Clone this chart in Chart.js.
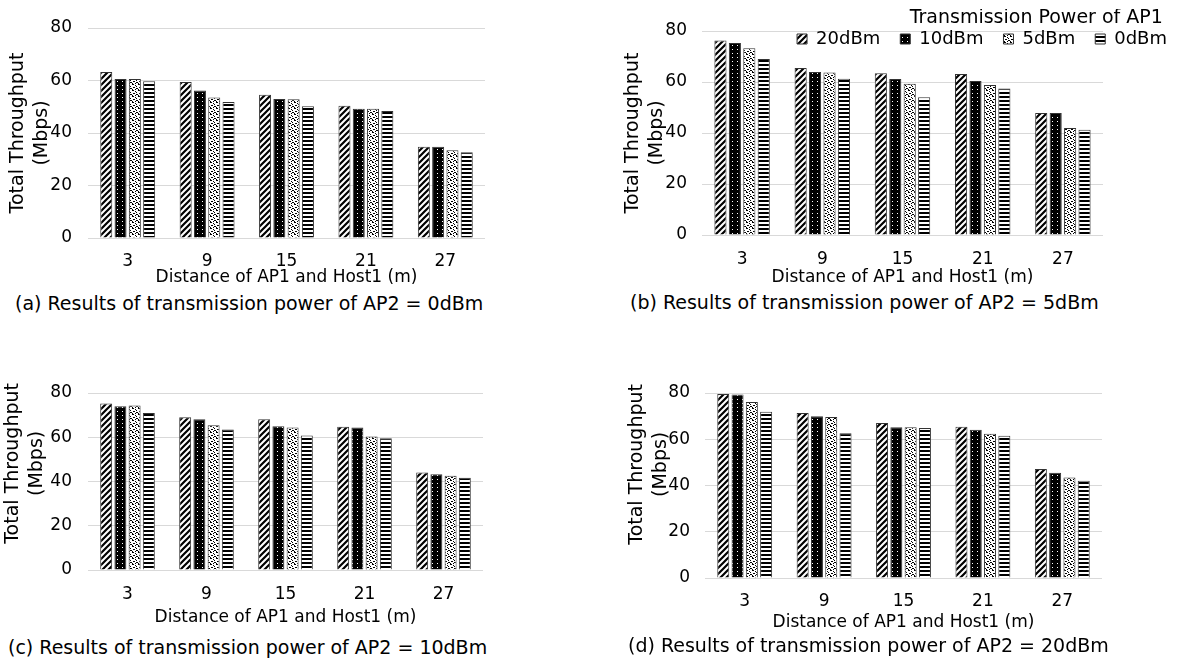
<!DOCTYPE html>
<html>
<head>
<meta charset="utf-8">
<script src="https://cdn.jsdelivr.net/npm/chart.js@4.4.0/dist/chart.umd.min.js"></script>
<style>
  body { margin: 0; background: #fff; width: 1182px; height: 660px; position: relative; overflow: hidden; font-family: 'DejaVu Sans', sans-serif; }
  .panel { position: absolute; }
  .cap { position: absolute; font-size: 19px; line-height: 22px; white-space: nowrap; color: #000; }
</style>
</head>
<body>
<div class="panel" style="left:0;top:0"><canvas id="chartA"></canvas></div>
<div class="panel" style="left:590px;top:0"><canvas id="chartB"></canvas></div>
<div class="panel" style="left:0;top:330px"><canvas id="chartC"></canvas></div>
<div class="panel" style="left:590px;top:330px"><canvas id="chartD"></canvas></div>

<div class="cap" style="left:15px;top:292px">(a) Results of transmission power of AP2 = 0dBm</div>
<div class="cap" style="left:630px;top:291px">(b) Results of transmission power of AP2 = 5dBm</div>
<div class="cap" style="left:8px;top:636px">(c) Results of transmission power of AP2 = 10dBm</div>
<div class="cap" style="left:628px;top:634px">(d) Results of transmission power of AP2 = 20dBm</div>

<script>
// distances on the x axis, and the AP1 powers of the four series
const distances = ['3', '9', '15', '21', '27'];
const ap1Powers = ['20dBm', '10dBm', '5dBm', '0dBm'];
const yTicks = [0, 20, 40, 60, 80];

// one row per AP1 power (20, 10, 5, 0 dBm), one column per distance
const ap2At0dBm = [
  [63.2, 59.4, 54.6, 50.4, 34.8],
  [60.6, 56.2, 53.0, 49.2, 34.8],
  [60.6, 53.5, 52.9, 49.2, 33.4],
  [59.7, 51.8, 50.2, 48.4, 32.7]
];
const ap2At5dBm = [
  [76.3, 65.5, 63.4, 63.1, 47.8],
  [75.3, 63.9, 61.2, 60.4, 47.8],
  [73.2, 63.7, 59.3, 58.8, 42.0],
  [69.0, 61.3, 54.0, 57.5, 41.3]
];
const ap2At10dBm = [
  [75.3, 69.0, 68.1, 64.8, 44.1],
  [74.0, 68.1, 65.0, 64.4, 43.3],
  [74.3, 65.4, 64.4, 60.3, 42.6],
  [71.0, 63.5, 60.8, 59.5, 41.7]
];
const ap2At20dBm = [
  [79.6, 71.4, 67.0, 65.4, 47.1],
  [79.3, 69.9, 65.2, 64.1, 45.5],
  [76.1, 69.6, 65.2, 62.4, 43.5],
  [71.9, 62.6, 64.9, 61.5, 42.1]
];

Chart.defaults.font.family = "'DejaVu Sans', sans-serif";
Chart.defaults.color = '#000';
const NBSP = '\u00a0';

// black and white fills like the original figure
function makePattern(kind) {
  const c = document.createElement('canvas');
  const g = c.getContext('2d');
  if (kind === 'diag') {
    c.width = 6; c.height = 6;
    g.fillStyle = '#fff'; g.fillRect(0, 0, 6, 6);
    g.strokeStyle = '#000'; g.lineWidth = 2.2;
    g.beginPath();
    g.moveTo(-1, 7); g.lineTo(7, -1);
    g.moveTo(-1, 1); g.lineTo(1, -1);
    g.moveTo(5, 7); g.lineTo(7, 5);
    g.stroke();
  } else if (kind === 'blackDots') {
    c.width = 5; c.height = 4;
    g.fillStyle = '#000'; g.fillRect(0, 0, 5, 4);
    g.fillStyle = '#fff'; g.fillRect(2, 1, 1, 1);
  } else if (kind === 'whiteDots') {
    c.width = 6; c.height = 6;
    g.fillStyle = '#fff'; g.fillRect(0, 0, 6, 6);
    g.fillStyle = '#000';
    [[0,0],[1,0],[3,1],[4,2],[1,3],[2,3],[4,4],[5,4],[0,5],[3,5]].forEach(p => g.fillRect(p[0], p[1], 1, 1));
  } else {
    c.width = 1; c.height = 4;
    g.fillStyle = '#fff'; g.fillRect(0, 0, 1, 4);
    g.fillStyle = '#000'; g.fillRect(0, 0, 1, 2);
  }
  return g.createPattern(c, 'repeat');
}
const fills = [makePattern('diag'), makePattern('blackDots'), makePattern('whiteDots'), makePattern('hstripes')];

// legend takes no room in the layout, then sits over the top of the plot
const legendPlace = {
  id: 'legendPlace',
  beforeLayout(chart) {
    const lg = chart.legend;
    if (!lg || lg._patched) return;
    const fit = lg.fit;
    lg.fit = function () { fit.call(this); this._realHeight = this.height; this.height = 0; };
    lg._patched = true;
  },
  afterLayout(chart, args, opts) {
    const lg = chart.legend;
    if (!lg || !lg.options.display || opts.right == null) return;
    lg.height = lg._realHeight;
    lg.top = opts.top;
    lg.bottom = opts.top + lg.height;
    lg.right = opts.right;
    lg.left = opts.right - lg.width;
  }
};

function buildChart(id, values, lay) {
  const canvas = document.getElementById(id);
  const xH = lay.titleOff + 10;
  canvas.width = lay.w;
  canvas.height = lay.b + xH + 2;
  const lead = NBSP.repeat(lay.yLead || 0);
  const datasets = ap1Powers.map((p, i) => ({
    label: p,
    data: values[i],
    backgroundColor: fills[i],
    borderColor: '#333',
    borderWidth: 1,
    categoryPercentage: 0.72,
    barPercentage: 0.84
  }));
  return new Chart(canvas.getContext('2d'), {
    type: 'bar',
    data: { labels: distances, datasets: datasets },
    plugins: [legendPlace],
    options: {
      responsive: false,
      animation: false,
      layout: { padding: { left: lay.padL, right: lay.w - lay.r, top: lay.t, bottom: 2 } },
      plugins: {
        tooltip: { enabled: false },
        legendPlace: lay.legend || {},
        legend: {
          display: !!lay.legend,
          position: 'top',
          align: 'end',
          labels: { boxWidth: 10, boxHeight: 10, padding: 20, color: '#000', font: { size: 18, lineHeight: 1 } },
          title: {
            display: true,
            text: 'Transmission Power of AP1' + NBSP.repeat(4),
            position: 'end',
            color: '#000',
            font: { size: 19, lineHeight: 1 },
            padding: { top: 0, bottom: -18 }
          }
        }
      },
      scales: {
        x: {
          grid: { display: false, drawTicks: false },
          border: { display: false },
          ticks: { padding: lay.tickOff - 8.5, color: '#000', font: { size: 17, lineHeight: 1 } },
          title: { display: true, text: 'Distance of AP1 and Host1 (m)', color: '#000', font: { size: 17, lineHeight: 1 }, padding: { top: 0, bottom: 1.5 } },
          afterFit: s => { s.height = xH; }
        },
        y: {
          min: yTicks[0],
          max: yTicks[yTicks.length - 1],
          grid: { color: '#d9d9d9', drawTicks: false },
          border: { display: false },
          ticks: { stepSize: yTicks[1] - yTicks[0], padding: lay.yTickPad, color: '#000', font: { size: 17 } },
          title: { display: true, text: [lead + 'Total Throughput', lead + '(Mbps)'], color: '#000', font: { size: 19, lineHeight: 1.263 }, padding: { top: lay.yTitlePad, bottom: 0 } },
          afterFit: s => { s.width = lay.l - lay.padL; }
        }
      }
    }
  });
}

buildChart('chartA', ap2At0dBm,  { w: 500, l: 88,  r: 485, t: 28, b: 238, padL: 0,  yTitlePad: 6,  yTickPad: 16, tickOff: 24, titleOff: 40 });
buildChart('chartB', ap2At5dBm,  { w: 592, l: 112, r: 513, t: 31, b: 235, padL: 10, yTitlePad: 21, yTickPad: 15, tickOff: 25, titleOff: 43,
                                   legend: { right: 597, top: 9 } });
buildChart('chartC', ap2At10dBm, { w: 500, l: 88,  r: 483, t: 63, b: 240, padL: 0,  yTitlePad: 1,  yTickPad: 16, tickOff: 25, titleOff: 48, yLead: 6 });
buildChart('chartD', ap2At20dBm, { w: 520, l: 115, r: 512, t: 63, b: 248, padL: 10, yTitlePad: 25, yTickPad: 15, tickOff: 24, titleOff: 45, yLead: 7 });
</script>
</body>
</html>
